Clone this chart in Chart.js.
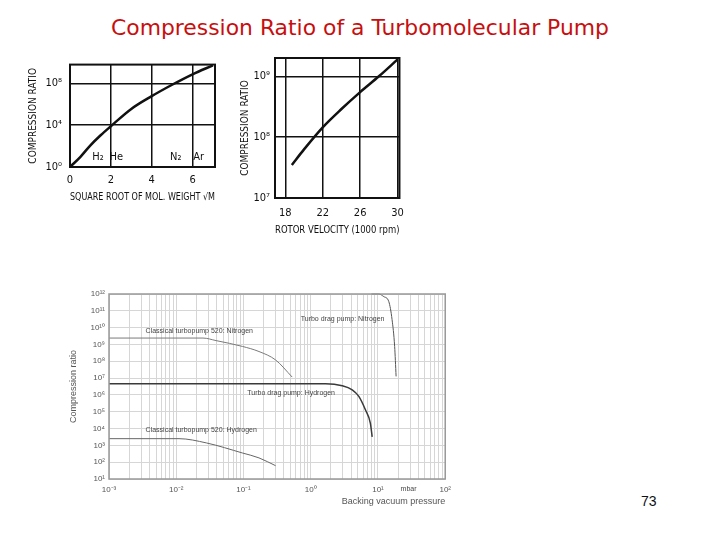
<!DOCTYPE html>
<html>
<head>
<meta charset="utf-8">
<script src="https://cdn.jsdelivr.net/npm/chart.js@4.4.1/dist/chart.umd.min.js"></script>
<style>
  body { margin: 0; width: 720px; height: 540px; position: relative; background: #fff; overflow: hidden; }
  canvas { position: absolute; }
  #title { position: absolute; left: 0; width: 720px; top: 16px; line-height: 24px; text-align: center; color: #c80f0f; font-family: "DejaVu Sans"; font-size: 20px; white-space: nowrap; }
  #page { position: absolute; left: 641px; top: 493px; line-height: 16px; font: 14px "Liberation Sans"; color: #111; }
</style>
</head>
<body>
<div id="title"><span id="titleText">Compression Ratio of a Turbomolecular Pump</span></div>
<div id="page">73</div>
<canvas id="molChart" width="205" height="165" style="left:20px;top:50px"></canvas>
<canvas id="rpmChart" width="185" height="195" style="left:228px;top:44px"></canvas>
<canvas id="pressureChart" width="395" height="230" style="left:62px;top:284px"></canvas>
<script>
// --- compression ratio vs square root of molecular weight ---
const molWeightRoot = [0, 0.5, 1, 1.5, 2, 3, 4, 5, 6, 7];
const molRatio = [1, 9, 120, 1100, 8000, 3.6e5, 6.0e6, 7.4e7, 7.4e8, 5.4e9];
const molTicksX = [0, 2, 4, 6];
const molTicksY = [1, 1e4, 1e8];
const gasNames = ['H₂', 'He', 'N₂', 'Ar'];
const gasPos = [1.37, 2.27, 5.18, 6.3];

// --- compression ratio vs rotor velocity ---
const rotorSpeed = [18.7, 20, 22, 24, 26, 28, 30];
const rotorRatio = [3.5e7, 6.3e7, 1.45e8, 2.9e8, 5.5e8, 1.0e9, 1.9e9];
const rotorTicksX = [18, 22, 26, 30];
const rotorTicksY = [1e7, 1e8, 1e9];

// --- compression ratio vs backing vacuum pressure (mbar) ---
const classicN2Pressure = [1e-3, 2.5e-2, 3.9e-2, 9.7e-2, 0.17, 0.3, 0.53];
const classicN2Ratio = [2.4e9, 2.4e9, 1.7e9, 7.6e8, 3.8e8, 1.2e8, 1.15e7];
const dragH2Pressure = [1e-3, 1.66, 2.94, 4.14, 5.19, 6.5, 7.7, 8.2];
const dragH2Ratio = [4.6e6, 4.6e6, 3.5e6, 2.0e6, 8.1e5, 1.3e5, 2.1e4, 3.2e3];
const classicH2Pressure = [1e-3, 1.1e-2, 2.8e-2, 9.7e-2, 0.17, 0.3];
const classicH2Ratio = [2.5e3, 2.5e3, 1.4e3, 3.5e2, 1.8e2, 6.2e1];
const dragN2Pressure = [8, 10.3, 12.2, 14.5, 16.2, 17.7, 18.6];
const dragN2Ratio = [1e12, 1e12, 7e11, 3.5e11, 3e10, 7.6e8, 1.26e7];
const pressureDecades = [1e-3, 1e-2, 1e-1, 1, 10, 100];
const ratioDecades = [10, 1e2, 1e3, 1e4, 1e5, 1e6, 1e7, 1e8, 1e9, 1e10, 1e11, 1e12];
const minorSteps = [1, 2, 3, 4, 5, 6, 7, 8, 9];

const SUP = { '-': '⁻', '0': '⁰', '1': '¹', '2': '²', '3': '³', '4': '⁴', '5': '⁵', '6': '⁶', '7': '⁷', '8': '⁸', '9': '⁹' };
function powLabel(v) {
    const e = Math.round(Math.log10(v));
    return '10' + String(e).split('').map(c => SUP[c]).join('');
}
function isDecade(v) {
    const l = Math.log10(v);
    return Math.abs(l - Math.round(l)) < 1e-6;
}
const toPoints = (xs, ys) => xs.map((x, i) => ({ x: x, y: ys[i] }));
const fixedTicks = list => scale => { scale.ticks = list.map(v => ({ value: v })); };

// box around the plot area
const framePlugin = {
    id: 'frame',
    defaults: { color: '#000', width: 2 },
    afterDatasetsDraw(chart, args, opts) {
        const { ctx, chartArea: a } = chart;
        ctx.save();
        ctx.strokeStyle = opts.color;
        ctx.lineWidth = opts.width;
        ctx.strokeRect(a.left, a.top, a.right - a.left, a.bottom - a.top);
        ctx.restore();
    }
};
// text notes placed in data coordinates
const notesPlugin = {
    id: 'notes',
    afterDatasetsDraw(chart, args, opts) {
        if (!opts.items) return;
        const { ctx, scales } = chart;
        ctx.save();
        ctx.font = opts.font;
        ctx.fillStyle = opts.color;
        ctx.textBaseline = 'middle';
        opts.items.forEach(n => {
            ctx.textAlign = n.align || 'center';
            ctx.fillText(n.text, scales.x.getPixelForValue(n.x), scales.y.getPixelForValue(n.y));
        });
        ctx.restore();
    }
};
Chart.register(framePlugin, notesPlugin);

const scanFont = { family: '"DejaVu Sans Condensed"', size: 11 };
const scanInk = '#111';

new Chart(document.getElementById('molChart'), {
    type: 'line',
    data: {
        labels: molWeightRoot,
        datasets: [{
            data: toPoints(molWeightRoot, molRatio),
            borderColor: scanInk,
            borderWidth: 2.5,
            pointRadius: 0,
            cubicInterpolationMode: 'monotone'
        }]
    },
    options: {
        responsive: false,
        animation: false,
        layout: { padding: { top: 14, right: 10, left: 0, bottom: 0 } },
        plugins: {
            legend: { display: false },
            tooltip: { enabled: false },
            frame: { color: scanInk, width: 2 },
            notes: {
                font: '11px "DejaVu Sans Condensed"',
                color: scanInk,
                items: gasNames.map((g, i) => ({ text: g, x: gasPos[i], y: 8 }))
            }
        },
        scales: {
            x: {
                type: 'linear', min: 0, max: 7.1,
                afterBuildTicks: fixedTicks(molTicksX),
                afterFit: s => { s.height = 48; },
                grid: { color: scanInk, lineWidth: 1.5, drawTicks: false },
                border: { display: false },
                ticks: { font: scanFont, color: scanInk, padding: 7, maxRotation: 0 },
                title: { display: true, text: 'SQUARE ROOT OF MOL. WEIGHT √M', font: { family: '"DejaVu Sans Condensed"', size: 10 }, color: scanInk, padding: { top: 0, bottom: 12 } }
            },
            y: {
                type: 'logarithmic', min: 1, max: 6.3e9,
                afterBuildTicks: fixedTicks(molTicksY),
                afterFit: s => { s.width = 50; },
                grid: { color: scanInk, lineWidth: 1.5, drawTicks: false },
                border: { display: false },
                ticks: { font: scanFont, color: scanInk, padding: 8, callback: v => powLabel(v) },
                title: { display: true, text: 'COMPRESSION RATIO', font: { family: '"DejaVu Sans Condensed"', size: 10 }, color: scanInk, padding: { top: 7, bottom: 0 } }
            }
        }
    }
});

new Chart(document.getElementById('rpmChart'), {
    type: 'line',
    data: {
        labels: rotorSpeed,
        datasets: [{
            data: toPoints(rotorSpeed, rotorRatio),
            borderColor: scanInk,
            borderWidth: 2.5,
            pointRadius: 0,
            cubicInterpolationMode: 'monotone'
        }]
    },
    options: {
        responsive: false,
        animation: false,
        layout: { padding: { top: 14, right: 7, left: 0, bottom: 0 } },
        plugins: {
            legend: { display: false },
            tooltip: { enabled: false },
            frame: { color: scanInk, width: 2 }
        },
        scales: {
            x: {
                type: 'linear', min: 16.9, max: 30.2,
                afterBuildTicks: fixedTicks(rotorTicksX),
                afterFit: s => { s.height = 41; },
                grid: { color: scanInk, lineWidth: 1.5, drawTicks: false },
                border: { display: false },
                ticks: { font: scanFont, color: scanInk, padding: 9, maxRotation: 0 },
                title: { display: true, text: 'ROTOR VELOCITY (1000 rpm)', font: { family: '"DejaVu Sans Condensed"', size: 10 }, color: scanInk, padding: { top: 0, bottom: 3 } }
            },
            y: {
                type: 'logarithmic', min: 1e7, max: 2e9,
                afterBuildTicks: fixedTicks(rotorTicksY),
                afterFit: s => { s.width = 47; },
                grid: { color: scanInk, lineWidth: 1.5, drawTicks: false },
                border: { display: false },
                ticks: { font: scanFont, color: scanInk, padding: 5, callback: v => powLabel(v) },
                title: { display: true, text: 'COMPRESSION RATIO', font: { family: '"DejaVu Sans Condensed"', size: 10 }, color: scanInk, padding: { top: 11, bottom: 0 } }
            }
        }
    }
});

const pressureTicks = [];
pressureDecades.forEach(d => {
    minorSteps.forEach(m => { if (d * m <= 100) pressureTicks.push(d * m); });
});
const grayText = '#555';
const smallFont = { family: '"Liberation Sans"', size: 8 };

new Chart(document.getElementById('pressureChart'), {
    type: 'line',
    data: {
        datasets: [
            { label: 'Classical turbopump 520: Nitrogen', data: toPoints(classicN2Pressure, classicN2Ratio), borderColor: '#7a7a7a', borderWidth: 1 },
            { label: 'Turbo drag pump: Hydrogen', data: toPoints(dragH2Pressure, dragH2Ratio), borderColor: '#3a3a3a', borderWidth: 1.5 },
            { label: 'Classical turbopump 520: Hydrogen', data: toPoints(classicH2Pressure, classicH2Ratio), borderColor: '#666', borderWidth: 1 },
            { label: 'Turbo drag pump: Nitrogen', data: toPoints(dragN2Pressure, dragN2Ratio), borderColor: '#555', borderWidth: 1 }
        ].map(d => Object.assign(d, { pointRadius: 0, cubicInterpolationMode: 'monotone', clip: false }))
    },
    options: {
        responsive: false,
        animation: false,
        layout: { padding: { top: 10, right: 6, left: 0, bottom: 0 } },
        plugins: {
            legend: { display: false },
            tooltip: { enabled: false },
            frame: { color: '#999', width: 1.5 },
            notes: {
                font: '7px "Liberation Sans"',
                color: '#444',
                items: [
                    { text: 'Classical turbopump 520: Nitrogen', x: 3.5e-3, y: 6.6e9, align: 'left' },
                    { text: 'Turbo drag pump: Nitrogen', x: 0.71, y: 3.2e10, align: 'left' },
                    { text: 'Turbo drag pump: Hydrogen', x: 0.114, y: 1.3e6, align: 'left' },
                    { text: 'Classical turbopump 520: Hydrogen', x: 3.5e-3, y: 8.5e3, align: 'left' },
                    { text: 'mbar', x: 28.5, y: 2.4, align: 'center' }
                ]
            }
        },
        scales: {
            x: {
                type: 'logarithmic', min: 1e-3, max: 100,
                afterBuildTicks: fixedTicks(pressureTicks),
                afterFit: s => { s.height = 35; },
                grid: { color: '#d6d6d6', lineWidth: 1, drawTicks: false },
                border: { display: false },
                ticks: { font: smallFont, color: grayText, padding: 6, maxRotation: 0, autoSkip: false, callback: v => isDecade(v) ? powLabel(v) : '' },
                title: { display: true, text: 'Backing vacuum pressure', align: 'end', font: { family: '"Liberation Sans"', size: 9 }, color: grayText, padding: { top: 0, bottom: 7 } }
            },
            y: {
                type: 'logarithmic', min: 10, max: 1e12,
                afterBuildTicks: fixedTicks(ratioDecades),
                afterFit: s => { s.width = 47; },
                grid: { color: '#d6d6d6', lineWidth: 1, drawTicks: false },
                border: { display: false },
                ticks: { font: smallFont, color: grayText, padding: 4, autoSkip: false, callback: v => powLabel(v) },
                title: { display: true, text: 'Compression ratio', font: { family: '"Liberation Sans"', size: 9 }, color: grayText, padding: { top: 6, bottom: 0 } }
            }
        }
    }
});

// stretch the slide title to the width it has on the slide
const titleText = document.getElementById('titleText');
const titleWidth = titleText.getBoundingClientRect().width;
document.getElementById('title').style.fontSize = (20 * 498 / titleWidth).toFixed(2) + 'px';
</script>
</body>
</html>
